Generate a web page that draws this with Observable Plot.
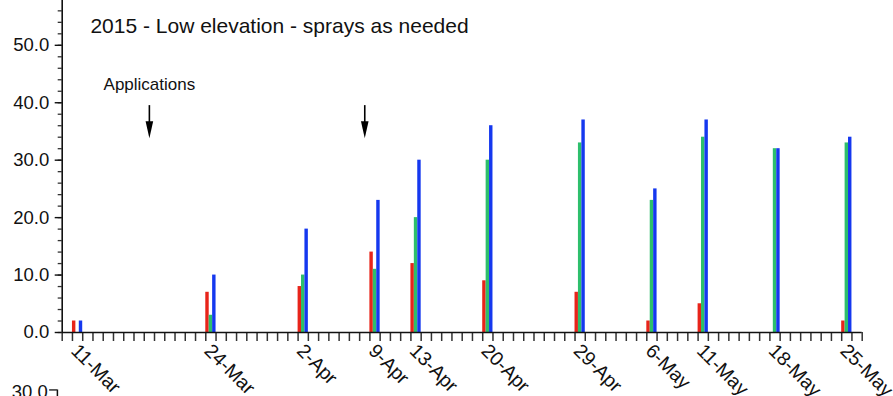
<!DOCTYPE html>
<html>
<head>
<meta charset="utf-8">
<script src="https://cdn.jsdelivr.net/npm/d3@7"></script>
<script src="https://cdn.jsdelivr.net/npm/@observablehq/plot@0.6"></script>
<style>
  html, body { margin: 0; padding: 0; background: #fff; }
  svg { overflow: visible; }
</style>
</head>
<body>
<div id="chart"></div>
<script>
// ---- data ----
const dateLabels = ["11-Mar", "24-Mar", "2-Apr", "9-Apr", "13-Apr", "20-Apr", "29-Apr", "6-May", "11-May", "18-May", "25-May"];
const redValues   = [2, 7, 8, 14, 12, 9, 7, 2, 5, 0, 2];
const greenValues = [0, 3, 10, 11, 20, 30, 33, 23, 34, 32, 33];
const blueValues  = [2, 10, 18, 23, 30, 36, 37, 25, 37, 32, 34];
const applicationLabels = ["18-Mar", "8-Apr"];
const yMajorTicks = [0, 10, 20, 30, 40, 50];
const titleText = "2015 - Low elevation - sprays as needed";
const annotationText = "Applications";

const parse = s => d3.utcParse("%d-%b-%Y")(s + "-2015");
const dates = dateLabels.map(parse);
const appDates = applicationLabels.map(parse);
const xStart = parse("10-Mar"), xEnd = parse("27-May");
const days = d3.utcDay.range(xStart, d3.utcDay.offset(xEnd, 1));
const yMinor = d3.range(0, 57, 2);

const rows = dates.map((d, i) => ({date: d, label: dateLabels[i], red: redValues[i], green: greenValues[i], blue: blueValues[i]}));
const series = [
  {key: "red", color: "#e8241a", k: 0},
  {key: "green", color: "#2dbf6c", k: 1},
  {key: "blue", color: "#1538ef", k: 2}
];
const mid = d => d3.utcHour.offset(d, 12);

// narrow filled arrowhead symbol (tip at origin)
const arrowHead = {draw(ctx) { ctx.moveTo(-3.8, -17); ctx.lineTo(3.8, -17); ctx.lineTo(0, 0); ctx.closePath(); }};

const font = "Liberation Sans, Arial, Helvetica, sans-serif";

const barMarks = series.map(s => Plot.rectY(rows.filter(r => r[s.key] > 0), {
  x1: r => d3.utcHour.offset(r.date, 8 * s.k),
  x2: r => d3.utcHour.offset(r.date, 8 * (s.k + 1)),
  y1: 0,
  y2: s.key,
  fill: s.color
}));

const chart = Plot.plot({
  width: 893,
  height: 396,
  marginLeft: 61.7,
  marginRight: 31.3,
  marginTop: 0,
  marginBottom: 64,
  style: {fontFamily: font, background: "#fff", color: "#111"},
  x: {type: "utc", domain: [xStart, xEnd], axis: null},
  y: {domain: [0, 57.8], axis: null},
  marks: [
    ...barMarks,
    // x axis daily ticks
    Plot.axisX({ticks: days, tickSize: 9, tickFormat: () => "", stroke: "#333", strokeWidth: 1.5, label: null}),
    // x axis line
    Plot.ruleY([0], {x1: xStart, x2: xEnd, stroke: "#111", strokeWidth: 1.6}),
    // date labels
    Plot.text(rows, {x: "date", y: 0, text: "label", dy: 15, dx: 2, rotate: 45, textAnchor: "start", lineAnchor: "middle", fontSize: 19.5, fill: "#111"}),
    // y axis minor ticks
    Plot.axisY({ticks: yMinor, tickSize: 4, tickFormat: () => "", stroke: "#333", strokeWidth: 1.3, label: null}),
    // y axis major ticks + labels
    Plot.axisY({ticks: yMajorTicks, tickSize: 7, tickPadding: 6, tickFormat: d3.format(".1f"), fontSize: 18.5, stroke: "#111", strokeWidth: 1.4, label: null}),
    // y axis line
    Plot.ruleX([xStart], {y1: 0, y2: 57.8, stroke: "#111", strokeWidth: 1.6}),
    // title
    Plot.text([titleText], {x: d3.utcHour.offset(xStart, 66), y: 53.4, text: d => d, textAnchor: "start", lineAnchor: "middle", fontSize: 21, fill: "#111"}),
    // annotation
    Plot.text([annotationText], {x: mid(appDates[0]), y: 43.1, text: d => d, textAnchor: "middle", lineAnchor: "middle", fontSize: 17, fill: "#111"}),
    // arrows
    Plot.ruleX(appDates, {x: mid, y1: 39.5, y2: 36, stroke: "#000", strokeWidth: 1.6}),
    Plot.dot(appDates, {x: mid, y: 33.8, symbol: arrowHead, fill: "#000", stroke: null, r: 5}),
    // top of next panel (partially visible)
    Plot.text(["30.0"], {x: xStart, y: -10.3, text: d => d, dx: -14.5, textAnchor: "end", lineAnchor: "middle", fontSize: 18.5, fill: "#111"}),
    Plot.ruleY([-10.0], {x1: d3.utcDay.offset(xStart, -1), x2: xStart, dx: -4.8, insetLeft: 2.5, stroke: "#111", strokeWidth: 1.3}),
    Plot.ruleX([xStart], {y1: -10.0, y2: -11.3, dx: -4.8, stroke: "#111", strokeWidth: 1.5})
  ]
});
document.getElementById("chart").appendChild(chart);
</script>
</body>
</html>
